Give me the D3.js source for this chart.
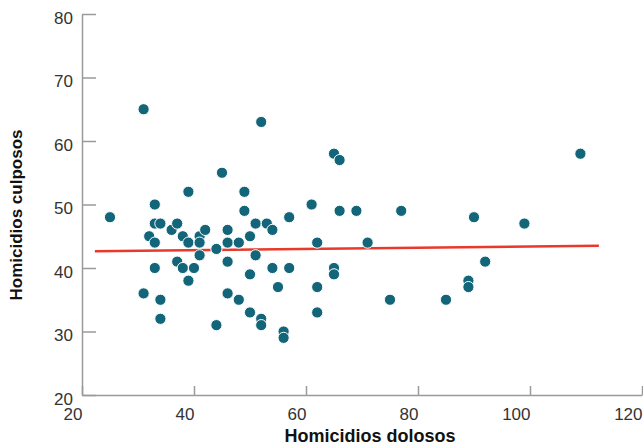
<!DOCTYPE html>
<html>
<head>
<meta charset="utf-8">
<script src="https://d3js.org/d3.v7.min.js"></script>
<style>
  body { margin: 0; background: #fff; }
  text { font-family: "Liberation Sans", Arial, sans-serif; }
</style>
</head>
<body>
<svg width="643" height="445"></svg>
<script>
// homicidios dolosos (x) vs culposos (y)
var dolosos = [25,31,31,32,33,33,33,33,34,34,34,36,37,37,38,38,39,39,39,40,
  41,41,41,42,44,44,45,46,46,46,46,48,48,49,49,50,50,50,51,51,
  52,52,52,53,54,54,55,56,56,57,57,61,62,62,62,65,65,65,66,66,
  69,71,75,77,85,89,89,90,92,99,109];
var culposos = [48,65,36,45,50,47,44,40,47,35,32,46,47,41,45,40,52,44,38,40,
  45,44,42,46,43,31,55,46,44,41,36,44,35,52,49,45,39,33,47,42,
  63,32,31,47,46,40,37,30,29,48,40,50,44,37,33,58,40,39,57,49,
  49,44,35,49,35,38,37,48,41,47,58];
// tendencia (extremos)
var trendX = [22.3, 112.3];
var trendY = [42.65, 43.5];
var xTicks = [20, 40, 60, 80, 100, 120];
var yTicks = [20, 30, 40, 50, 60, 70, 80];

var svg = d3.select("svg");
var margin = {left: 82, top: 14, right: 1, bottom: 50};
var w = 643 - margin.left - margin.right;
var h = 445 - margin.top - margin.bottom;

var x = d3.scaleLinear().domain([20, 120]).range([0, w]);
var y = d3.scaleLinear().domain([20, 80]).range([h, 0]);

var g = svg.append("g").attr("transform", "translate(" + margin.left + "," + margin.top + ")");

var xAxis = g.append("g")
  .attr("transform", "translate(0," + h + ")")
  .call(d3.axisBottom(x).tickValues(xTicks).tickSizeInner(-9).tickSizeOuter(0).tickPadding(13));
xAxis.selectAll("text").attr("text-anchor", "end");

var yAxis = g.append("g")
  .call(d3.axisLeft(y).tickValues(yTicks).tickSizeInner(-14).tickSizeOuter(0).tickPadding(9));
yAxis.selectAll("text").attr("dy", "0.55em");

g.selectAll(".domain, .tick line").attr("stroke", "#9a9a9a").attr("stroke-width", 1.5);
g.selectAll(".tick text").attr("fill", "#333").style("font-size", "17px");

// línea de tendencia
var line = d3.line().x(function(d) { return x(d[0]); }).y(function(d) { return y(d[1]); });
g.append("path")
  .datum(d3.zip(trendX, trendY))
  .attr("d", line)
  .attr("fill", "none")
  .attr("stroke", "#e8392b")
  .attr("stroke-width", 2.5);

// puntos
g.selectAll("circle")
  .data(d3.zip(dolosos, culposos))
  .enter().append("circle")
  .attr("cx", function(d) { return x(d[0]); })
  .attr("cy", function(d) { return y(d[1]); })
  .attr("r", 5.6)
  .attr("fill", "#13667a")
  .attr("stroke", "#fff")
  .attr("stroke-width", 1);

svg.append("text")
  .attr("x", 370).attr("y", 442)
  .attr("text-anchor", "middle")
  .style("font-size", "18px").style("font-weight", "bold")
  .attr("fill", "#111")
  .text("Homicidios dolosos");

svg.append("text")
  .attr("transform", "translate(22,215) rotate(-90)")
  .attr("text-anchor", "middle")
  .style("font-size", "17px").style("font-weight", "bold")
  .attr("fill", "#111")
  .text("Homicidios culposos");
</script>
</body>
</html>
